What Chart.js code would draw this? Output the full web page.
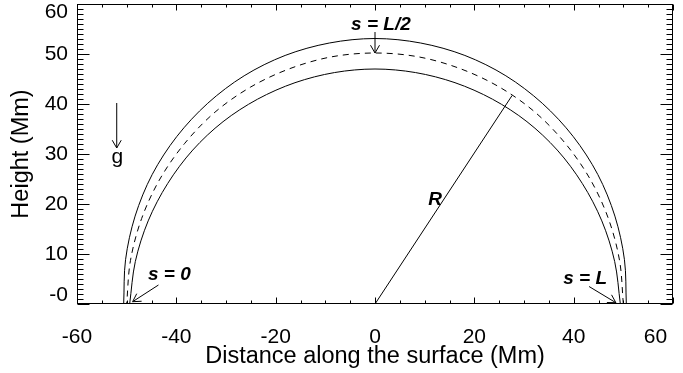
<!DOCTYPE html>
<html>
<head>
<meta charset="utf-8">
<script src="https://cdn.jsdelivr.net/npm/chart.js@4/dist/chart.umd.min.js"></script>
<style>
  html, body { margin: 0; padding: 0; background: #fff; }
  #wrap { width: 683px; height: 373px; }
</style>
</head>
<body>
<div id="wrap"><canvas id="loopChart" width="683" height="373"></canvas></div>
<script>
// --- DATA ---
// loop drawn in polar form around the origin, angle in degrees from the right footpoint
const loopAngles   = [0, 10, 20, 30, 40, 50, 60, 70, 80, 90, 100, 110, 120, 130, 140, 150, 160, 170, 180];
const outerRadius  = [50.6, 51.0, 51.4, 51.8, 52.1, 52.4, 52.7, 52.9, 53.0, 53.1, 53.0, 52.9, 52.7, 52.4, 52.1, 51.8, 51.4, 51.0, 50.6];
const centerRadius = [50.0, 50.0, 50.0, 50.0, 50.0, 50.1, 50.1, 50.1, 50.2, 50.2, 50.2, 50.1, 50.1, 50.1, 50.0, 50.0, 50.0, 50.0, 50.0];
const innerRadius  = [49.4, 49.0, 48.6, 48.2, 47.9, 47.6, 47.3, 47.1, 47.0, 47.0, 47.0, 47.1, 47.3, 47.6, 47.9, 48.2, 48.6, 49.0, 49.4];

// radius line R, from the origin to the loop axis
const radiusLineX = [0, 27.6];
const radiusLineY = [0, 41.7];

// axis ticks
const xTickValues = [-60, -40, -20, 0, 20, 40, 60];
const xTickLabels = ['-60', '-40', '-20', '0', '20', '40', '60'];
const yTickValues = [0, 10, 20, 30, 40, 50, 60];
const yTickLabels = ['-0', '10', '20', '30', '40', '50', '60'];

// labels & arrows in data units
const notes = [
  { text: 's = L/2', x: 1.2,   y: 54.8, arrow: [0, 54.4, 0, 50.2] },
  { text: 's = 0',   x: -41.4, y: 4.8,  arrow: [-43.6, 3.8, -48.8, 0.46] },
  { text: 's = L',   x: 42.3,  y: 4.1,  arrow: [43.1, 3.5, 48.5, 0.26] },
  { text: 'R',       x: 12.1,  y: 19.8, arrow: null },
  { text: 'g',       x: -51.9, y: 28.2, arrow: [-52.0, 40.2, -52.0, 31.2], plain: true }
];

const FONT = '"Liberation Sans", Arial, Helvetica, sans-serif';

function polarPoints(angles, radii) {
  return angles.map((a, i) => {
    const t = a * Math.PI / 180;
    return { x: radii[i] * Math.cos(t), y: radii[i] * Math.sin(t) };
  });
}

function drawArrow(ctx, x1, y1, x2, y2) {
  const head = 9, spread = Math.PI / 6;
  const ang = Math.atan2(y2 - y1, x2 - x1);
  ctx.beginPath();
  ctx.moveTo(x1, y1); ctx.lineTo(x2, y2);
  ctx.moveTo(x2 - head * Math.cos(ang - spread), y2 - head * Math.sin(ang - spread));
  ctx.lineTo(x2, y2);
  ctx.lineTo(x2 - head * Math.cos(ang + spread), y2 - head * Math.sin(ang + spread));
  ctx.stroke();
}

// IDL style box with inward ticks + annotations
const frameAndNotes = {
  id: 'frameAndNotes',
  afterDatasetsDraw(chart) {
    const { ctx, chartArea: a, scales: { x, y } } = chart;
    const L = Math.round(a.left) + 0.5, R = Math.round(a.right) - 0.5;
    const T = Math.round(a.top) + 0.5, B = Math.round(a.bottom) - 0.5;
    ctx.save();
    ctx.strokeStyle = '#000';
    ctx.lineWidth = 1;
    ctx.strokeRect(L, T, R - L, B - T);

    ctx.beginPath();
    for (let v = -60; v <= 60; v += 5) {
      const px = Math.round(x.getPixelForValue(v)) + 0.5;
      const len = v % 20 === 0 ? 6 : 3;
      ctx.moveTo(px, B); ctx.lineTo(px, B - len);
      ctx.moveTo(px, T); ctx.lineTo(px, T + len);
    }
    for (let v = 0; v <= 60; v += 1) {
      const py = Math.round(y.getPixelForValue(v)) + 0.5;
      const len = v % 10 === 0 ? 12 : 6;
      ctx.moveTo(L, py); ctx.lineTo(L + len, py);
      ctx.moveTo(R, py); ctx.lineTo(R - len, py);
    }
    ctx.stroke();

    ctx.fillStyle = '#000';
    ctx.textAlign = 'center';
    ctx.textBaseline = 'alphabetic';
    notes.forEach(n => {
      ctx.font = n.plain ? '21px ' + FONT : 'italic bold 19px ' + FONT;
      ctx.fillText(n.text, x.getPixelForValue(n.x), y.getPixelForValue(n.y));
      if (n.arrow) {
        const [x1, y1, x2, y2] = n.arrow;
        drawArrow(ctx, x.getPixelForValue(x1), y.getPixelForValue(y1),
                       x.getPixelForValue(x2), y.getPixelForValue(y2));
      }
    });
    ctx.restore();
  }
};

const lineStyle = { borderColor: '#000', borderWidth: 1, pointRadius: 0, showLine: true, fill: false };

new Chart(document.getElementById('loopChart'), {
  type: 'scatter',
  data: {
    datasets: [
      { ...lineStyle, label: 'outer', data: polarPoints(loopAngles, outerRadius), tension: 0.33 },
      { ...lineStyle, label: 'axis', data: polarPoints(loopAngles, centerRadius), tension: 0.33, borderDash: [6, 5] },
      { ...lineStyle, label: 'inner', data: polarPoints(loopAngles, innerRadius), tension: 0.33 },
      { ...lineStyle, label: 'R', data: radiusLineX.map((v, i) => ({ x: v, y: radiusLineY[i] })), tension: 0 }
    ]
  },
  options: {
    responsive: false,
    animation: false,
    layout: { padding: { top: 4, right: 10, left: 0, bottom: 0 } },
    plugins: { legend: { display: false }, tooltip: { enabled: false } },
    scales: {
      x: {
        type: 'linear', min: -60, max: 60,
        afterBuildTicks: s => { s.ticks = xTickValues.map(v => ({ value: v })); },
        afterFit: s => { s.height = 69; s.paddingLeft = 0; s.paddingRight = 0; },
        grid: { display: false }, border: { display: false },
        ticks: {
          color: '#000', padding: 13, font: { family: FONT, size: 21 }, maxRotation: 0,
          // last label sits inside the canvas, like the original
          callback: v => {
            const lab = xTickLabels[xTickValues.indexOf(v)];
            return v === 60 ? lab + '      ' : lab;
          }
        },
        title: { display: true, text: 'Distance along the surface (Mm)', color: '#000',
                 font: { family: FONT, size: 23.5 }, padding: { bottom: 2, top: 0 } }
      },
      y: {
        type: 'linear', min: 0, max: 60,
        afterBuildTicks: s => { s.ticks = yTickValues.map(v => ({ value: v })); },
        afterFit: s => { s.width = 77; s.paddingTop = 0; s.paddingBottom = 0; },
        grid: { display: false }, border: { display: false },
        ticks: {
          color: '#000', padding: 1, font: { family: FONT, size: 21, lineHeight: 0.8 },
          callback: v => {
            const lab = yTickLabels[yTickValues.indexOf(v)];
            if (v === 0) return [lab, ''];
            if (v === 60) return ['', lab];
            return lab;
          }
        },
        title: { display: true, text: 'Height (Mm)', color: '#000',
                 font: { family: FONT, size: 23.5 }, padding: { top: 7, bottom: 0 } }
      }
    }
  },
  plugins: [frameAndNotes]
});
</script>
</body>
</html>
